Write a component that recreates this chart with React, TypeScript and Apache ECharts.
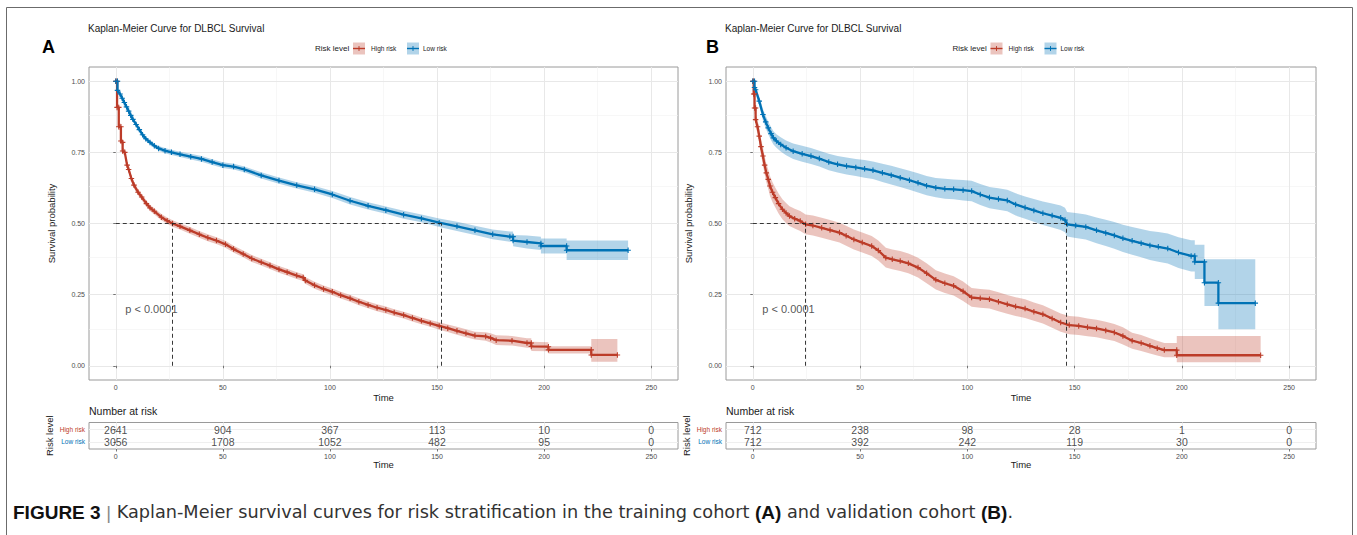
import React, { useEffect, useRef } from 'react';
import * as echarts from 'echarts';

// ---------------- data ----------------
const xTicks = [0, 50, 100, 150, 200, 250];
const xMinor = [25, 75, 125, 175, 225];
const yTicks = [0, 0.25, 0.5, 0.75, 1];
const yMinor = [0.125, 0.375, 0.625, 0.875];

const riskGroups = ['Low risk', 'High risk']; // table rows 1, 2
const riskTimes = [0, 50, 100, 150, 200, 250];
const atRiskHighA = [2641, 904, 367, 113, 10, 0];
const atRiskLowA = [3056, 1708, 1052, 482, 95, 0];
const atRiskHighB = [712, 238, 98, 28, 1, 0];
const atRiskLowB = [712, 392, 242, 119, 30, 0];

const mediansA = { high: 26.5, low: 152 };
const mediansB = { high: 24.6, low: 146 };
const pValueText = 'p < 0.0001';
const pValuePos = [4.2, 0.2];

// rows: [time, survival, lower CI, upper CI]
const lowRiskA: number[][] = [
  [0, 1, 1, 1], [0.8, 1, 1, 1], [0.8, 0.968, 0.961, 0.975], [2, 0.955, 0.947, 0.963],
  [3, 0.94, 0.932, 0.948], [4, 0.925, 0.917, 0.933], [5, 0.91, 0.902, 0.918], [6, 0.895, 0.887, 0.903],
  [7, 0.88, 0.872, 0.888], [8, 0.866, 0.858, 0.874], [9.5, 0.848, 0.84, 0.856], [11, 0.83, 0.822, 0.838],
  [12.5, 0.812, 0.804, 0.82], [14, 0.798, 0.79, 0.806], [16, 0.785, 0.777, 0.793], [18, 0.773, 0.765, 0.781],
  [20, 0.764, 0.756, 0.772], [23, 0.756, 0.747, 0.765], [26, 0.75, 0.741, 0.759], [30, 0.743, 0.734, 0.752],
  [35, 0.735, 0.725, 0.745], [40, 0.727, 0.717, 0.737], [45, 0.716, 0.706, 0.726], [50, 0.705, 0.695, 0.715],
  [55, 0.7, 0.69, 0.71], [60, 0.69, 0.68, 0.7], [67.9, 0.669, 0.658, 0.68], [76.2, 0.651, 0.64, 0.662],
  [84.5, 0.634, 0.623, 0.645], [92.8, 0.62, 0.608, 0.632], [101.1, 0.602, 0.59, 0.614], [109.4, 0.58, 0.567, 0.593],
  [117.8, 0.562, 0.549, 0.575], [126.1, 0.547, 0.534, 0.56], [134.4, 0.531, 0.517, 0.545], [142.7, 0.518, 0.504, 0.532],
  [151, 0.503, 0.488, 0.518], [159.3, 0.49, 0.474, 0.506], [167.7, 0.476, 0.46, 0.492], [176, 0.462, 0.445, 0.479],
  [184, 0.454, 0.436, 0.472], [185.5, 0.454, 0.436, 0.472], [185.5, 0.44, 0.42, 0.46], [192, 0.435, 0.412, 0.458],
  [198.5, 0.43, 0.407, 0.453], [198.5, 0.421, 0.395, 0.447], [210.5, 0.421, 0.395, 0.447], [210.5, 0.406, 0.372, 0.44],
  [239.2, 0.406, 0.372, 0.44],
];

const highRiskA: number[][] = [
  [0, 1, 1, 1], [0.6, 1, 1, 1], [0.6, 0.908, 0.898, 0.918], [1.4, 0.908, 0.898, 0.918],
  [1.4, 0.84, 0.829, 0.851], [2.4, 0.84, 0.829, 0.851], [2.4, 0.79, 0.779, 0.801], [3.2, 0.785, 0.774, 0.796],
  [3.2, 0.755, 0.744, 0.766], [4.2, 0.75, 0.739, 0.761], [5.3, 0.705, 0.694, 0.716], [6, 0.69, 0.679, 0.701],
  [7.3, 0.658, 0.647, 0.669], [8.5, 0.635, 0.624, 0.646], [10.4, 0.61, 0.599, 0.621], [12.1, 0.593, 0.582, 0.604],
  [14.3, 0.57, 0.559, 0.581], [16, 0.555, 0.544, 0.566], [18, 0.543, 0.532, 0.554], [21.3, 0.522, 0.511, 0.533],
  [24, 0.51, 0.499, 0.521], [26.5, 0.5, 0.489, 0.511], [30, 0.49, 0.479, 0.501], [34.6, 0.476, 0.464, 0.488],
  [39, 0.462, 0.45, 0.474], [43, 0.45, 0.438, 0.462], [47, 0.44, 0.428, 0.452], [51.2, 0.427, 0.415, 0.439],
  [55, 0.41, 0.398, 0.422], [59.5, 0.393, 0.381, 0.405], [63.5, 0.377, 0.365, 0.389], [67.9, 0.364, 0.352, 0.376],
  [72, 0.352, 0.34, 0.364], [76.2, 0.339, 0.327, 0.351], [80, 0.329, 0.317, 0.341], [84.5, 0.317, 0.305, 0.329],
  [87.5, 0.31, 0.298, 0.322], [88.5, 0.3, 0.288, 0.312], [92.8, 0.283, 0.271, 0.295], [97, 0.27, 0.258, 0.282],
  [101.1, 0.26, 0.248, 0.272], [105, 0.248, 0.236, 0.26], [109.4, 0.237, 0.225, 0.249], [113.5, 0.225, 0.213, 0.237],
  [117.8, 0.214, 0.202, 0.226], [122, 0.204, 0.192, 0.216], [126.1, 0.196, 0.184, 0.208], [130, 0.187, 0.175, 0.199],
  [134.4, 0.178, 0.166, 0.19], [138.5, 0.168, 0.156, 0.18], [142.7, 0.158, 0.146, 0.17], [146.8, 0.149, 0.137, 0.161],
  [151, 0.14, 0.127, 0.153], [155, 0.132, 0.119, 0.145], [159.3, 0.123, 0.109, 0.137], [163.5, 0.114, 0.1, 0.128],
  [167.7, 0.106, 0.092, 0.12], [172.7, 0.103, 0.088, 0.118], [175, 0.098, 0.082, 0.114], [177.6, 0.09, 0.073, 0.107],
  [185, 0.088, 0.071, 0.105], [192, 0.08, 0.063, 0.097], [194, 0.08, 0.063, 0.097], [194, 0.068, 0.052, 0.084],
  [202, 0.067, 0.051, 0.083], [202, 0.056, 0.043, 0.069], [222, 0.056, 0.043, 0.069], [222, 0.038, 0.014, 0.094],
  [234.2, 0.038, 0.014, 0.094],
];

const lowRiskB: number[][] = [
  [0, 1, 1, 1], [0.8, 1, 1, 1], [0.8, 0.978, 0.967, 0.989], [1.3, 0.97, 0.957, 0.983],
  [3, 0.93, 0.913, 0.947], [4.7, 0.883, 0.863, 0.903], [6, 0.857, 0.835, 0.879], [7.2, 0.836, 0.814, 0.858],
  [8.5, 0.816, 0.793, 0.839], [9.6, 0.801, 0.778, 0.824], [11, 0.79, 0.766, 0.814], [13, 0.778, 0.753, 0.803],
  [15.5, 0.766, 0.74, 0.792], [18.8, 0.754, 0.727, 0.781], [23, 0.745, 0.717, 0.773], [27.1, 0.737, 0.709, 0.765],
  [31, 0.728, 0.7, 0.756], [35.4, 0.716, 0.687, 0.745], [39.5, 0.708, 0.679, 0.737], [43.7, 0.702, 0.672, 0.732],
  [48, 0.697, 0.667, 0.727], [52.1, 0.692, 0.661, 0.723], [56, 0.687, 0.656, 0.718], [60.4, 0.678, 0.646, 0.71],
  [64.5, 0.67, 0.637, 0.703], [68.7, 0.661, 0.628, 0.694], [73, 0.652, 0.619, 0.685], [77, 0.643, 0.609, 0.677],
  [81, 0.633, 0.599, 0.667], [85.3, 0.626, 0.592, 0.66], [89.5, 0.622, 0.587, 0.657], [93.6, 0.62, 0.585, 0.655],
  [98, 0.617, 0.581, 0.653], [102, 0.614, 0.578, 0.65], [106, 0.602, 0.565, 0.639], [110.3, 0.591, 0.554, 0.628],
  [114.5, 0.586, 0.548, 0.624], [118.6, 0.581, 0.543, 0.619], [122.5, 0.567, 0.528, 0.606], [126.9, 0.556, 0.517, 0.595],
  [131, 0.546, 0.506, 0.586], [135.2, 0.536, 0.495, 0.577], [139.5, 0.528, 0.486, 0.57], [143.5, 0.52, 0.477, 0.563],
  [145.5, 0.512, 0.469, 0.555], [146.5, 0.497, 0.454, 0.54], [150.5, 0.493, 0.449, 0.537], [155.2, 0.488, 0.444, 0.532],
  [160.2, 0.476, 0.431, 0.521], [164.5, 0.467, 0.421, 0.513], [168.5, 0.458, 0.411, 0.505], [172.5, 0.448, 0.4, 0.496],
  [176.8, 0.439, 0.39, 0.488], [181, 0.431, 0.381, 0.481], [185.1, 0.423, 0.372, 0.474], [189, 0.418, 0.366, 0.47],
  [193.4, 0.412, 0.359, 0.465], [198.4, 0.398, 0.344, 0.452], [204.3, 0.386, 0.331, 0.441], [206, 0.386, 0.331, 0.441],
  [206, 0.365, 0.305, 0.425], [210.5, 0.365, 0.305, 0.425], [210.5, 0.292, 0.21, 0.374], [217, 0.292, 0.21, 0.374],
  [217, 0.22, 0.128, 0.374], [234.2, 0.22, 0.128, 0.374],
];

const highRiskB: number[][] = [
  [0, 1, 1, 1], [0.4, 1, 1, 1], [0.4, 0.955, 0.94, 0.97], [0.8, 0.955, 0.94, 0.97],
  [0.8, 0.906, 0.886, 0.926], [1.3, 0.906, 0.886, 0.926], [1.3, 0.865, 0.842, 0.888], [2.2, 0.84, 0.815, 0.865],
  [3, 0.807, 0.78, 0.834], [3.8, 0.77, 0.741, 0.799], [4.7, 0.737, 0.706, 0.768], [5.5, 0.705, 0.673, 0.737],
  [6.3, 0.678, 0.645, 0.711], [7.2, 0.655, 0.621, 0.689], [8, 0.632, 0.597, 0.667], [9.2, 0.61, 0.575, 0.645],
  [10.5, 0.591, 0.556, 0.626], [12, 0.57, 0.535, 0.605], [13.8, 0.55, 0.515, 0.585], [15.5, 0.537, 0.502, 0.572],
  [17.1, 0.526, 0.491, 0.561], [19.5, 0.517, 0.482, 0.552], [22.1, 0.509, 0.474, 0.544], [24.6, 0.497, 0.462, 0.532],
  [28, 0.493, 0.458, 0.528], [32.1, 0.485, 0.45, 0.52], [36, 0.477, 0.442, 0.512], [40.4, 0.468, 0.433, 0.503],
  [43.5, 0.457, 0.422, 0.492], [47.1, 0.444, 0.409, 0.479], [51, 0.433, 0.398, 0.468], [55.4, 0.421, 0.386, 0.456],
  [58.5, 0.405, 0.37, 0.44], [62, 0.38, 0.345, 0.415], [65, 0.374, 0.339, 0.409], [68.7, 0.368, 0.333, 0.403],
  [72.5, 0.36, 0.325, 0.395], [77, 0.345, 0.31, 0.38], [81, 0.325, 0.29, 0.36], [85.3, 0.302, 0.268, 0.336],
  [89.5, 0.29, 0.256, 0.324], [93.6, 0.281, 0.247, 0.315], [98, 0.262, 0.228, 0.296], [102, 0.24, 0.207, 0.273],
  [106, 0.237, 0.204, 0.27], [110.3, 0.234, 0.201, 0.267], [114.5, 0.225, 0.192, 0.258], [118.6, 0.216, 0.183, 0.249],
  [122.5, 0.208, 0.175, 0.241], [126.9, 0.201, 0.168, 0.234], [131, 0.19, 0.158, 0.222], [135.2, 0.181, 0.149, 0.213],
  [139.5, 0.166, 0.134, 0.198], [143.5, 0.152, 0.12, 0.184], [147.5, 0.143, 0.111, 0.175], [151.9, 0.14, 0.108, 0.172],
  [156, 0.135, 0.104, 0.166], [160.2, 0.131, 0.1, 0.162], [164.5, 0.124, 0.093, 0.155], [168.5, 0.117, 0.087, 0.147],
  [172.5, 0.105, 0.075, 0.135], [176.8, 0.088, 0.06, 0.116], [181, 0.08, 0.052, 0.108], [185.1, 0.07, 0.043, 0.097],
  [188.5, 0.062, 0.036, 0.088], [191.8, 0.055, 0.03, 0.08], [197.6, 0.055, 0.03, 0.08], [197.6, 0.037, 0.012, 0.105],
  [236.7, 0.037, 0.012, 0.105],
];

// ---------------- styles ----------------
const RED = '#BC3C29';
const BLUE = '#0072B5';
const RED_FILL = 'rgba(188,60,41,0.3)';
const BLUE_FILL = 'rgba(0,114,181,0.3)';
const GRID_MAJOR = '#e8e8e8';
const GRID_MINOR = '#f2f2f2';
const FONT = 'Liberation Sans, Arial, Helvetica, sans-serif';
const CAP_FONT = 'DejaVu Sans, Open Sans, Liberation Sans, sans-serif';
const PLUS = 'path://M4,0H6V4H10V6H6V10H4V6H0V4H4Z';

const panels = [
  { left: 89, width: 589, letter: 'A', letterX: 42, high: highRiskA, low: lowRiskA, med: mediansA, atHigh: atRiskHighA, atLow: atRiskLowA },
  { left: 726, width: 590, letter: 'B', letterX: 706, high: highRiskB, low: lowRiskB, med: mediansB, atHigh: atRiskHighB, atLow: atRiskLowB },
];
const PANEL_TOP = 67;
const PANEL_H = 313;
const TABLE_TOP = 422.5;
const TABLE_H = 26.5;

function txt(x: number, y: number, text: string, size: number, o: any = {}) {
  const align = o.align || 'left';
  return {
    type: 'text', x, y, silent: true, rotation: o.rot || 0,
    style: {
      text, fontSize: size, fontFamily: FONT, fill: o.fill || '#1a1a1a',
      fontWeight: o.bold ? 'bold' : 'normal',
      align, textAlign: align, verticalAlign: 'middle', textVerticalAlign: 'middle',
    },
  };
}

function legendItems(x0: number, y: number) {
  const sw = (x: number, fill: string, stroke: string) => [
    { type: 'rect', silent: true, shape: { x, y: y - 6, width: 12, height: 12 }, style: { fill } },
    { type: 'line', silent: true, shape: { x1: x, y1: y, x2: x + 12, y2: y }, style: { stroke, lineWidth: 1.4 } },
    { type: 'line', silent: true, shape: { x1: x + 6, y1: y - 2.4, x2: x + 6, y2: y + 2.4 }, style: { stroke, lineWidth: 1 } },
  ];
  return [
    txt(x0 - 3, y, 'Risk level', 8),
    ...sw(x0 + 35, RED_FILL, RED),
    txt(x0 + 53, y, 'High risk', 6.5),
    ...sw(x0 + 89, BLUE_FILL, BLUE),
    txt(x0 + 105, y, 'Low risk', 6.5),
  ];
}

function buildOption() {
  const grid: any[] = [];
  const xAxis: any[] = [];
  const yAxis: any[] = [];
  const series: any[] = [];
  const graphic: any[] = [];

  const xAx = (gi: number) => ({
    gridIndex: gi, type: 'value', min: -12.5, max: 262.5,
    axisLine: { show: false },
    axisTick: { show: true, length: 2.5, customValues: xTicks, lineStyle: { color: '#555', width: 0.8 } },
    axisLabel: { customValues: xTicks, fontSize: 7, color: '#4d4d4d', margin: 3.5, fontFamily: FONT },
    splitLine: { show: false },
  });

  panels.forEach((p) => {
    grid.push({ left: p.left, top: PANEL_TOP, width: p.width, height: PANEL_H, show: true, borderColor: '#9a9a9a', borderWidth: 1, backgroundColor: '#fff', containLabel: false, outerBoundsMode: 'none' });
  });
  panels.forEach((p) => {
    grid.push({ left: p.left, top: TABLE_TOP, width: p.width, height: TABLE_H, show: true, borderColor: '#9a9a9a', borderWidth: 1, backgroundColor: '#fff', containLabel: false, outerBoundsMode: 'none' });
  });
  for (let i = 0; i < 4; i++) xAxis.push(xAx(i));
  panels.forEach((_, k) => {
    yAxis.push({
      gridIndex: k, type: 'value', min: -0.05, max: 1.05,
      axisLine: { show: false },
      axisTick: { show: true, length: 2.5, customValues: yTicks, lineStyle: { color: '#555', width: 0.8 } },
      axisLabel: { customValues: yTicks, fontSize: 7, color: '#4d4d4d', margin: 4, fontFamily: FONT, formatter: (v: number) => v.toFixed(2) },
      splitLine: { show: false },
    });
  });
  panels.forEach((_, k) => {
    yAxis.push({
      gridIndex: k + 2, type: 'value', min: 0.4, max: 2.6,
      axisLine: { show: false },
      axisTick: { show: true, length: 2.5, customValues: [1, 2], lineStyle: { color: '#555', width: 0.8 } },
      axisLabel: {
        customValues: [1, 2], margin: 4, fontFamily: FONT,
        formatter: (v: number) => (Math.round(v) === 2 ? '{h|' + riskGroups[1] + '}' : '{l|' + riskGroups[0] + '}'),
        rich: { h: { color: RED, fontSize: 6.5, fontFamily: FONT }, l: { color: BLUE, fontSize: 6.5, fontFamily: FONT } },
      },
      splitLine: { show: false },
    });
  });

  panels.forEach((p, k) => {
    const ti = k + 2;
    // grid lines of the survival panel
    series.push({
      type: 'line', xAxisIndex: k, yAxisIndex: k, data: [[0, 0]], showSymbol: false, symbol: 'none',
      lineStyle: { opacity: 0 }, silent: true, z: 0,
      markLine: {
        silent: true, symbol: ['none', 'none'], z: 0, label: { show: false }, emphasis: { disabled: true },
        lineStyle: { color: GRID_MAJOR, width: 1, type: 'solid' },
        data: [
          ...xMinor.map((v) => ({ xAxis: v, lineStyle: { color: GRID_MINOR, width: 0.6, type: 'solid' } })),
          ...yMinor.map((v) => ({ yAxis: v, lineStyle: { color: GRID_MINOR, width: 0.6, type: 'solid' } })),
          ...xTicks.map((v) => ({ xAxis: v })),
          ...yTicks.map((v) => ({ yAxis: v })),
        ],
      },
    });
    // confidence bands
    [[p.high, RED_FILL], [p.low, BLUE_FILL]].forEach(([rows, fill]: any) => {
      series.push({
        type: 'custom', xAxisIndex: k, yAxisIndex: k, silent: true, z: 1, data: [[0, 0]],
        renderItem: (_params: any, api: any) => {
          const pts: number[][] = [];
          for (let i = 0; i < rows.length; i++) pts.push(api.coord([rows[i][0], rows[i][3]]));
          for (let i = rows.length - 1; i >= 0; i--) pts.push(api.coord([rows[i][0], rows[i][2]]));
          return { type: 'polygon', shape: { points: pts }, style: { fill } };
        },
      });
    });
    // survival curves
    [['High risk', p.high, RED], ['Low risk', p.low, BLUE]].forEach(([name, rows, color]: any) => {
      series.push({
        name, type: 'line', xAxisIndex: k, yAxisIndex: k,
        data: rows.map((r: number[]) => [r[0], r[1]]),
        symbol: PLUS, symbolSize: 5.5, showSymbol: true, showAllSymbol: true,
        itemStyle: { color }, lineStyle: { color, width: 2.3 },
        z: 3, silent: true, emphasis: { disabled: true },
      });
    });
    // median dashed lines
    series.push({
      type: 'line', xAxisIndex: k, yAxisIndex: k, data: [[0, 0]], showSymbol: false, symbol: 'none',
      lineStyle: { opacity: 0 }, silent: true, z: 4,
      markLine: {
        silent: true, symbol: ['none', 'none'], z: 6, label: { show: false }, emphasis: { disabled: true },
        lineStyle: { color: '#222', width: 0.9, type: [4, 3] },
        data: [
          [{ coord: [0, 0.5] }, { coord: [p.med.low, 0.5] }],
          [{ coord: [p.med.high, 0] }, { coord: [p.med.high, 0.5] }],
          [{ coord: [p.med.low, 0] }, { coord: [p.med.low, 0.5] }],
        ],
      },
    });
    // p value
    series.push({
      type: 'scatter', xAxisIndex: k, yAxisIndex: k, data: [pValuePos], symbolSize: 1,
      itemStyle: { color: 'rgba(0,0,0,0)' }, silent: true, z: 7,
      label: { show: true, position: 'right', distance: 0, formatter: pValueText, fontSize: 11, color: '#2a2a2a', fontFamily: FONT },
    });
    // table grid lines
    series.push({
      type: 'line', xAxisIndex: ti, yAxisIndex: ti, data: [[0, 1]], showSymbol: false, symbol: 'none',
      lineStyle: { opacity: 0 }, silent: true, z: 0,
      markLine: {
        silent: true, symbol: ['none', 'none'], z: 0, label: { show: false }, emphasis: { disabled: true },
        lineStyle: { color: '#efefef', width: 1, type: 'solid' },
        data: [...xTicks.map((v) => ({ xAxis: v })), { yAxis: 1 }, { yAxis: 2 }],
      },
    });
    // numbers at risk
    series.push({
      type: 'scatter', xAxisIndex: ti, yAxisIndex: ti, symbolSize: 1, silent: true, z: 5,
      itemStyle: { color: 'rgba(0,0,0,0)' },
      data: [
        ...riskTimes.map((t, i) => [t, 2, p.atHigh[i]]),
        ...riskTimes.map((t, i) => [t, 1, p.atLow[i]]),
      ],
      label: { show: true, position: 'inside', formatter: (q: any) => String(q.value[2]), fontSize: 10.5, color: '#1a1a1a', fontFamily: FONT },
    });

    // texts
    const cx = p.left + p.width / 2;
    graphic.push(txt(p.left - 1, 28, 'Kaplan-Meier Curve for DLBCL Survival', 10));
    graphic.push(txt(p.letterX, 47, p.letter, 18, { bold: true, fill: '#000' }));
    graphic.push(...legendItems(cx - 65.5, 48.5));
    graphic.push(txt(p.left - 38, PANEL_TOP + PANEL_H / 2, 'Survival probability', 9.5, { align: 'center', rot: Math.PI / 2 }));
    graphic.push(txt(cx, 397, 'Time', 9.5, { align: 'center' }));
    graphic.push(txt(p.left, 411, 'Number at risk', 10.5));
    graphic.push(txt(p.left - 40, TABLE_TOP + TABLE_H / 2, 'Risk level', 9.5, { align: 'center', rot: Math.PI / 2 }));
    graphic.push(txt(cx, 464, 'Time', 9.5, { align: 'center' }));
  });

  graphic.unshift({ type: 'rect', silent: true, shape: { x: 6.5, y: 7.5, width: 1346, height: 540 }, style: { fill: 'none', stroke: '#6b6b6b', lineWidth: 1 } });
  graphic.push({
    type: 'text', x: 13, y: 512, silent: true,
    style: {
      text: '{b|FIGURE 3} {s||} Kaplan-Meier survival curves for risk stratification in the training cohort {b|(A)} and validation cohort {b|(B)}.',
      fontSize: 17.7, fontFamily: CAP_FONT, fill: '#333', verticalAlign: 'middle', textVerticalAlign: 'middle',
      rich: {
        b: { fontWeight: 'bold', fontSize: 19, fontFamily: FONT, fill: '#111' },
        s: { fontSize: 18.5, fontFamily: FONT, fill: '#888' },
      },
    },
  });

  return {
    animation: false,
    backgroundColor: '#fff',
    textStyle: { fontFamily: FONT },
    grid, xAxis, yAxis, series, graphic,
  };
}

export default function App() {
  const ref = useRef<HTMLDivElement>(null);
  useEffect(() => {
    const chart = echarts.init(ref.current as HTMLDivElement, null, { renderer: 'svg' });
    chart.setOption(buildOption() as any);
    return () => chart.dispose();
  }, []);
  return (
    <div
      ref={ref}
      style={{ position: 'fixed', left: 0, top: 0, width: 1357, height: 535, background: '#fff' }}
    />
  );
}
